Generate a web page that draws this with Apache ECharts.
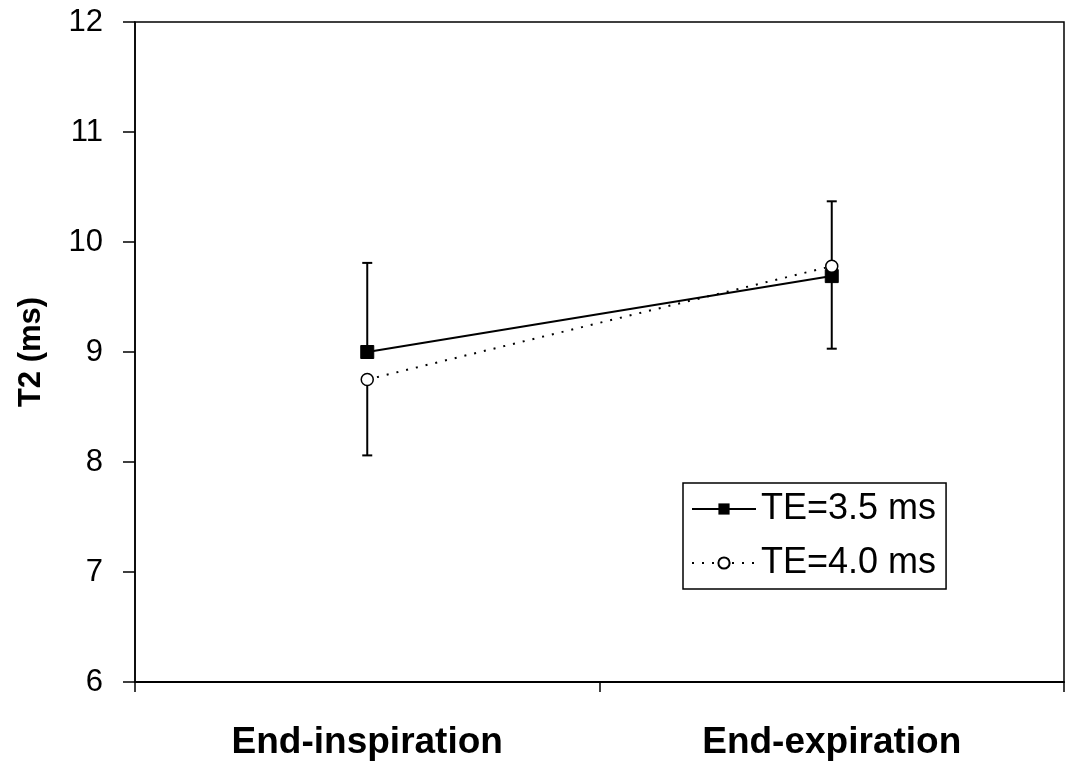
<!DOCTYPE html>
<html><head><meta charset="utf-8">
<script src="https://cdn.jsdelivr.net/npm/echarts@6/dist/echarts.min.js"></script>
<style>html,body{margin:0;padding:0;background:#fff}#c{width:1069px;height:761px}</style>
</head><body><div id="c"></div>
<script>
const categories = ['End-inspiration', 'End-expiration'];
const seriesNames = ['TE=3.5 ms', 'TE=4.0 ms'];
const te35 = [9.0, 9.69];
const te40 = [8.75, 9.78];
// error bar extents shown in the figure (plus / minus from the mean)
const te35Plus = [0.81, 0];
const te35Minus = [0, 0.66];
const te40Plus = [0, 0.59];
const te40Minus = [0.69, 0];
const yTicks = [6, 7, 8, 9, 10, 11, 12];

const FONT = '"Liberation Sans", Arial, sans-serif';
const chart = echarts.init(document.getElementById('c'), null, {renderer: 'canvas'});

function errData(vals, plus, minus) {
  return vals.map((v, i) => [i, v - minus[i], v + plus[i], v]);
}
function errRender(params, api) {
  const x = api.value(0);
  const lo = api.coord([x, api.value(1)]);
  const hi = api.coord([x, api.value(2)]);
  const mid = api.coord([x, api.value(3)]);
  const hw = 5;
  const st = {stroke: '#000', lineWidth: 2};
  const ch = [];
  if (Math.abs(lo[1] - mid[1]) > 1) {
    ch.push({type: 'line', shape: {x1: mid[0], y1: mid[1], x2: lo[0], y2: lo[1]}, style: st});
    ch.push({type: 'line', shape: {x1: lo[0]-hw, y1: lo[1], x2: lo[0]+hw, y2: lo[1]}, style: st});
  }
  if (Math.abs(hi[1] - mid[1]) > 1) {
    ch.push({type: 'line', shape: {x1: mid[0], y1: mid[1], x2: hi[0], y2: hi[1]}, style: st});
    ch.push({type: 'line', shape: {x1: hi[0]-hw, y1: hi[1], x2: hi[0]+hw, y2: hi[1]}, style: st});
  }
  return {type: 'group', children: ch};
}

chart.setOption({
  animation: false,
  backgroundColor: '#fff',
  grid: {left: 135, right: 5, top: 22, bottom: 74, show: true, borderColor: '#000', borderWidth: 1.5},
  legend: {
    left: 683, top: 483, orient: 'vertical',
    data: seriesNames,
    borderColor: '#000', borderWidth: 1.5, padding: [8, 10, 8, 8],
    itemWidth: 64, itemHeight: 14, itemGap: 18,
    textStyle: {fontFamily: FONT, fontSize: 36, color: '#000'}
  },
  xAxis: {
    type: 'category', data: categories, boundaryGap: true,
    axisLine: {lineStyle: {color: '#000', width: 2}},
    axisTick: {show: true, length: 10, lineStyle: {color: '#000', width: 1.5}},
    axisLabel: {fontFamily: FONT, fontSize: 37, fontWeight: 'bold', color: '#000', margin: 42}
  },
  yAxis: {
    type: 'value', min: yTicks[0], max: yTicks[yTicks.length-1], interval: 1,
    name: 'T2 (ms)', nameLocation: 'middle', nameGap: 88,
    nameTextStyle: {fontFamily: FONT, fontSize: 31, fontWeight: 'bold', color: '#000'},
    axisLine: {show: true, lineStyle: {color: '#000', width: 1.5}},
    axisTick: {show: true, length: 12, lineStyle: {color: '#000', width: 1.5}},
    splitLine: {show: false},
    axisLabel: {fontFamily: FONT, fontSize: 31, color: '#000', margin: 32}
  },
  series: [
    {type: 'custom', renderItem: errRender, data: errData(te35, te35Plus, te35Minus), z: 1, silent: true},
    {type: 'custom', renderItem: errRender, data: errData(te40, te40Plus, te40Minus), z: 1, silent: true},
    {
      name: seriesNames[0], type: 'line', data: te35, z: 3,
      symbol: 'rect', symbolSize: 13,
      lineStyle: {color: '#000', width: 2},
      itemStyle: {color: '#000', borderColor: '#000'}
    },
    {
      name: seriesNames[1], type: 'line', data: te40, z: 4,
      symbol: 'circle', symbolSize: 12,
      lineStyle: {color: '#000', width: 2, type: [2, 8]},
      itemStyle: {color: '#fff', borderColor: '#000', borderWidth: 1.5}
    }
  ]
});
</script>
</body></html>
